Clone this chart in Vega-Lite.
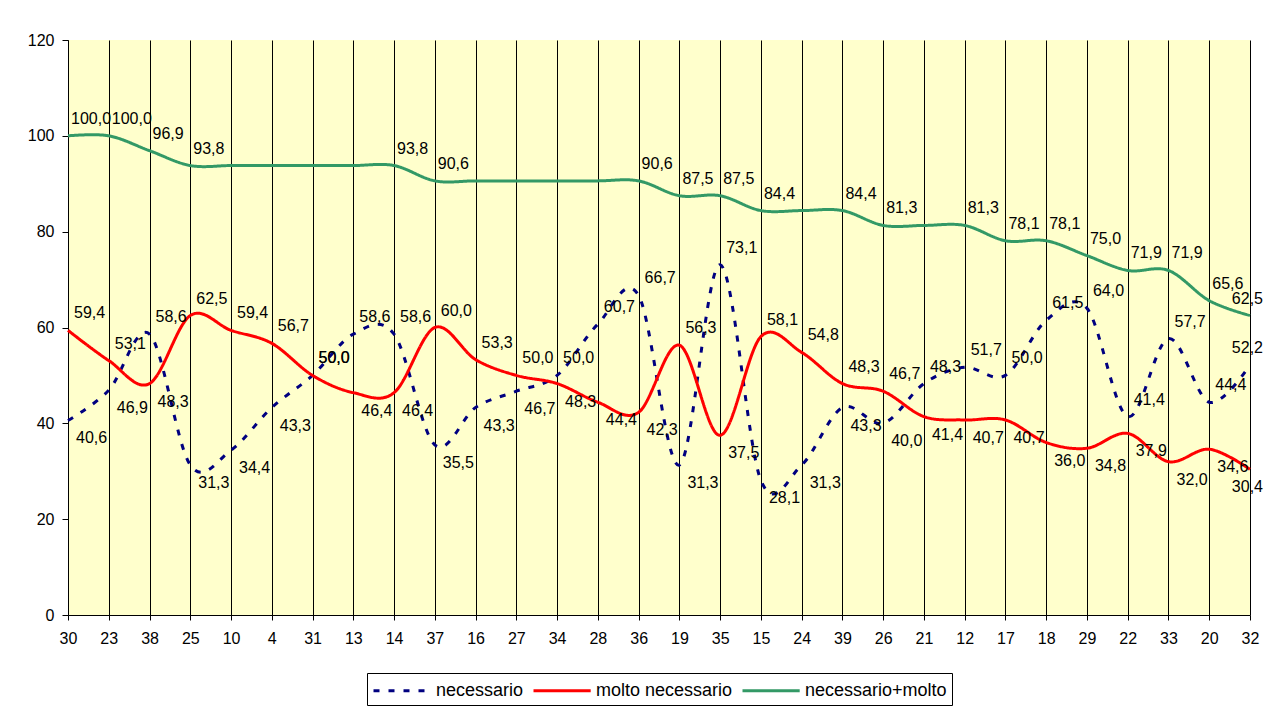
{
  "$schema": "https://vega.github.io/schema/vega-lite/v6.json",
  "width": 1182,
  "height": 575,
  "autosize": {"type": "none"},
  "padding": {"left": 68, "top": 40, "right": 15, "bottom": 91},
  "background": "white",
  "config": {
    "font": "Liberation Sans",
    "view": {"stroke": null, "fill": "#FFFFCC"},
    "axis": {"labelFont": "Liberation Sans", "labelFontSize": 16, "labelColor": "black", "domainColor": "black", "tickColor": "black", "titleFont": "Liberation Sans"}
  },
  "data": {
    "values": [
      {"cat": "30", "series": "necessario", "value": 40.6, "label": "40,6"},
      {"cat": "23", "series": "necessario", "value": 46.9, "label": "46,9"},
      {"cat": "38", "series": "necessario", "value": 58.6, "label": "58,6"},
      {"cat": "25", "series": "necessario", "value": 31.3, "label": "31,3"},
      {"cat": "10", "series": "necessario", "value": 34.4, "label": "34,4"},
      {"cat": "4", "series": "necessario", "value": 43.3, "label": "43,3"},
      {"cat": "31", "series": "necessario", "value": 50.0, "label": "50,0"},
      {"cat": "13", "series": "necessario", "value": 58.6, "label": "58,6"},
      {"cat": "14", "series": "necessario", "value": 58.6, "label": "58,6"},
      {"cat": "37", "series": "necessario", "value": 35.5, "label": "35,5"},
      {"cat": "16", "series": "necessario", "value": 43.3, "label": "43,3"},
      {"cat": "27", "series": "necessario", "value": 46.7, "label": "46,7"},
      {"cat": "34", "series": "necessario", "value": 50.0, "label": "50,0"},
      {"cat": "28", "series": "necessario", "value": 60.7, "label": "60,7"},
      {"cat": "36", "series": "necessario", "value": 66.7, "label": "66,7"},
      {"cat": "19", "series": "necessario", "value": 31.3, "label": "31,3"},
      {"cat": "35", "series": "necessario", "value": 73.1, "label": "73,1"},
      {"cat": "15", "series": "necessario", "value": 28.1, "label": "28,1"},
      {"cat": "24", "series": "necessario", "value": 31.3, "label": "31,3"},
      {"cat": "39", "series": "necessario", "value": 43.3, "label": "43,3"},
      {"cat": "26", "series": "necessario", "value": 40.0, "label": "40,0"},
      {"cat": "21", "series": "necessario", "value": 48.3, "label": "48,3"},
      {"cat": "12", "series": "necessario", "value": 51.7, "label": "51,7"},
      {"cat": "17", "series": "necessario", "value": 50.0, "label": "50,0"},
      {"cat": "18", "series": "necessario", "value": 61.5, "label": "61,5"},
      {"cat": "29", "series": "necessario", "value": 64.0, "label": "64,0"},
      {"cat": "22", "series": "necessario", "value": 41.4, "label": "41,4"},
      {"cat": "33", "series": "necessario", "value": 57.7, "label": "57,7"},
      {"cat": "20", "series": "necessario", "value": 44.4, "label": "44,4"},
      {"cat": "32", "series": "necessario", "value": 52.2, "label": "52,2"},

      {"cat": "30", "series": "molto necessario", "value": 59.4, "label": "59,4"},
      {"cat": "23", "series": "molto necessario", "value": 53.1, "label": "53,1"},
      {"cat": "38", "series": "molto necessario", "value": 48.3, "label": "48,3"},
      {"cat": "25", "series": "molto necessario", "value": 62.5, "label": "62,5"},
      {"cat": "10", "series": "molto necessario", "value": 59.4, "label": "59,4"},
      {"cat": "4", "series": "molto necessario", "value": 56.7, "label": "56,7"},
      {"cat": "31", "series": "molto necessario", "value": 50.0, "label": "50,0"},
      {"cat": "13", "series": "molto necessario", "value": 46.4, "label": "46,4"},
      {"cat": "14", "series": "molto necessario", "value": 46.4, "label": "46,4"},
      {"cat": "37", "series": "molto necessario", "value": 60.0, "label": "60,0"},
      {"cat": "16", "series": "molto necessario", "value": 53.3, "label": "53,3"},
      {"cat": "27", "series": "molto necessario", "value": 50.0, "label": "50,0"},
      {"cat": "34", "series": "molto necessario", "value": 48.3, "label": "48,3"},
      {"cat": "28", "series": "molto necessario", "value": 44.4, "label": "44,4"},
      {"cat": "36", "series": "molto necessario", "value": 42.3, "label": "42,3"},
      {"cat": "19", "series": "molto necessario", "value": 56.3, "label": "56,3"},
      {"cat": "35", "series": "molto necessario", "value": 37.5, "label": "37,5"},
      {"cat": "15", "series": "molto necessario", "value": 58.1, "label": "58,1"},
      {"cat": "24", "series": "molto necessario", "value": 54.8, "label": "54,8"},
      {"cat": "39", "series": "molto necessario", "value": 48.3, "label": "48,3"},
      {"cat": "26", "series": "molto necessario", "value": 46.7, "label": "46,7"},
      {"cat": "21", "series": "molto necessario", "value": 41.4, "label": "41,4"},
      {"cat": "12", "series": "molto necessario", "value": 40.7, "label": "40,7"},
      {"cat": "17", "series": "molto necessario", "value": 40.7, "label": "40,7"},
      {"cat": "18", "series": "molto necessario", "value": 36.0, "label": "36,0"},
      {"cat": "29", "series": "molto necessario", "value": 34.8, "label": "34,8"},
      {"cat": "22", "series": "molto necessario", "value": 37.9, "label": "37,9"},
      {"cat": "33", "series": "molto necessario", "value": 32.0, "label": "32,0"},
      {"cat": "20", "series": "molto necessario", "value": 34.6, "label": "34,6"},
      {"cat": "32", "series": "molto necessario", "value": 30.4, "label": "30,4"},

      {"cat": "30", "series": "necessario+molto", "value": 100.0, "label": "100,0"},
      {"cat": "23", "series": "necessario+molto", "value": 100.0, "label": "100,0"},
      {"cat": "38", "series": "necessario+molto", "value": 96.9, "label": "96,9"},
      {"cat": "25", "series": "necessario+molto", "value": 93.8, "label": "93,8"},
      {"cat": "10", "series": "necessario+molto", "value": 93.8, "label": ""},
      {"cat": "4", "series": "necessario+molto", "value": 93.8, "label": ""},
      {"cat": "31", "series": "necessario+molto", "value": 93.8, "label": ""},
      {"cat": "13", "series": "necessario+molto", "value": 93.8, "label": ""},
      {"cat": "14", "series": "necessario+molto", "value": 93.8, "label": "93,8"},
      {"cat": "37", "series": "necessario+molto", "value": 90.6, "label": "90,6"},
      {"cat": "16", "series": "necessario+molto", "value": 90.6, "label": ""},
      {"cat": "27", "series": "necessario+molto", "value": 90.6, "label": ""},
      {"cat": "34", "series": "necessario+molto", "value": 90.6, "label": ""},
      {"cat": "28", "series": "necessario+molto", "value": 90.6, "label": ""},
      {"cat": "36", "series": "necessario+molto", "value": 90.6, "label": "90,6"},
      {"cat": "19", "series": "necessario+molto", "value": 87.5, "label": "87,5"},
      {"cat": "35", "series": "necessario+molto", "value": 87.5, "label": "87,5"},
      {"cat": "15", "series": "necessario+molto", "value": 84.4, "label": "84,4"},
      {"cat": "24", "series": "necessario+molto", "value": 84.4, "label": ""},
      {"cat": "39", "series": "necessario+molto", "value": 84.4, "label": "84,4"},
      {"cat": "26", "series": "necessario+molto", "value": 81.3, "label": "81,3"},
      {"cat": "21", "series": "necessario+molto", "value": 81.3, "label": ""},
      {"cat": "12", "series": "necessario+molto", "value": 81.3, "label": "81,3"},
      {"cat": "17", "series": "necessario+molto", "value": 78.1, "label": "78,1"},
      {"cat": "18", "series": "necessario+molto", "value": 78.1, "label": "78,1"},
      {"cat": "29", "series": "necessario+molto", "value": 75.0, "label": "75,0"},
      {"cat": "22", "series": "necessario+molto", "value": 71.9, "label": "71,9"},
      {"cat": "33", "series": "necessario+molto", "value": 71.9, "label": "71,9"},
      {"cat": "20", "series": "necessario+molto", "value": 65.6, "label": "65,6"},
      {"cat": "32", "series": "necessario+molto", "value": 62.5, "label": "62,5"}
    ]
  },
  "encoding": {
    "x": {
      "field": "cat",
      "type": "ordinal",
      "sort": ["30","23","38","25","10","4","31","13","14","37","16","27","34","28","36","19","35","15","24","39","26","21","12","17","18","29","22","33","20","32"],
      "scale": {"type": "point", "padding": 0},
      "axis": {"title": null, "labelAngle": 0, "grid": true, "gridColor": "black", "gridOpacity": 1, "gridWidth": 1, "tickSize": 5, "labelPadding": 10, "domainWidth": 1}
    },
    "y": {
      "field": "value",
      "type": "quantitative",
      "scale": {"domain": [0, 120], "nice": false},
      "axis": {"title": null, "values": [0, 20, 40, 60, 80, 100, 120], "grid": false, "tickSize": 6, "labelPadding": 8, "domainWidth": 1}
    }
  },
  "layer": [
    {
      "mark": {"type": "line", "interpolate": "cardinal", "strokeWidth": 3},
      "encoding": {
        "color": {
          "field": "series",
          "type": "nominal",
          "scale": {"domain": ["necessario", "molto necessario", "necessario+molto"], "range": ["#000080", "#FF0000", "#339966"]},
          "legend": {
            "title": null,
            "orient": "none",
            "legendX": 299,
            "legendY": 633,
            "direction": "horizontal",
            "symbolType": "M-1,0H4.2",
            "symbolSize": 484,
            "symbolStrokeWidth": 3,
            "labelFont": "Liberation Sans",
            "labelFontSize": 18,
            "labelColor": "black",
            "labelOffset": 39,
            "columnPadding": 3,
            "strokeColor": "black",
            "fillColor": "white",
            "padding": 5
          }
        },
        "strokeDash": {
          "field": "series",
          "type": "nominal",
          "scale": {"domain": ["necessario", "molto necessario", "necessario+molto"], "range": [[6, 9], [1, 0], [1, 0]]}
        }
      }
    },
    {
      "transform": [{"filter": "datum.series === 'necessario+molto' && datum.cat !== '32'"}],
      "mark": {"type": "text", "align": "left", "baseline": "middle", "dx": 3, "dy": -17, "font": "Liberation Sans", "fontSize": 16, "color": "black"},
      "encoding": {"text": {"field": "label"}}
    },
    {
      "transform": [
        {"filter": "datum.series !== 'necessario+molto'"},
        {"joinaggregate": [{"op": "max", "field": "value", "as": "top"}], "groupby": ["cat"]},
        {"filter": "datum.value >= datum.top && datum.cat !== '32'"}
      ],
      "mark": {"type": "text", "align": "left", "baseline": "middle", "dx": 6, "dy": -17, "font": "Liberation Sans", "fontSize": 16, "color": "black"},
      "encoding": {"text": {"field": "label"}}
    },
    {
      "transform": [
        {"filter": "datum.series !== 'necessario+molto'"},
        {"joinaggregate": [{"op": "max", "field": "value", "as": "top"}], "groupby": ["cat"]},
        {"filter": "datum.value < datum.top && datum.cat !== '32'"}
      ],
      "mark": {"type": "text", "align": "left", "baseline": "middle", "dx": 8, "dy": 18, "font": "Liberation Sans", "fontSize": 16, "color": "black"},
      "encoding": {"text": {"field": "label"}}
    },
    {
      "transform": [{"filter": "datum.cat === '32' && datum.series !== 'molto necessario'"}],
      "mark": {"type": "text", "align": "right", "baseline": "middle", "dx": 13, "dy": -17, "font": "Liberation Sans", "fontSize": 16, "color": "black"},
      "encoding": {"text": {"field": "label"}}
    },
    {
      "transform": [{"filter": "datum.cat === '32' && datum.series === 'molto necessario'"}],
      "mark": {"type": "text", "align": "right", "baseline": "middle", "dx": 13, "dy": 18, "font": "Liberation Sans", "fontSize": 16, "color": "black"},
      "encoding": {"text": {"field": "label"}}
    }
  ]
}
